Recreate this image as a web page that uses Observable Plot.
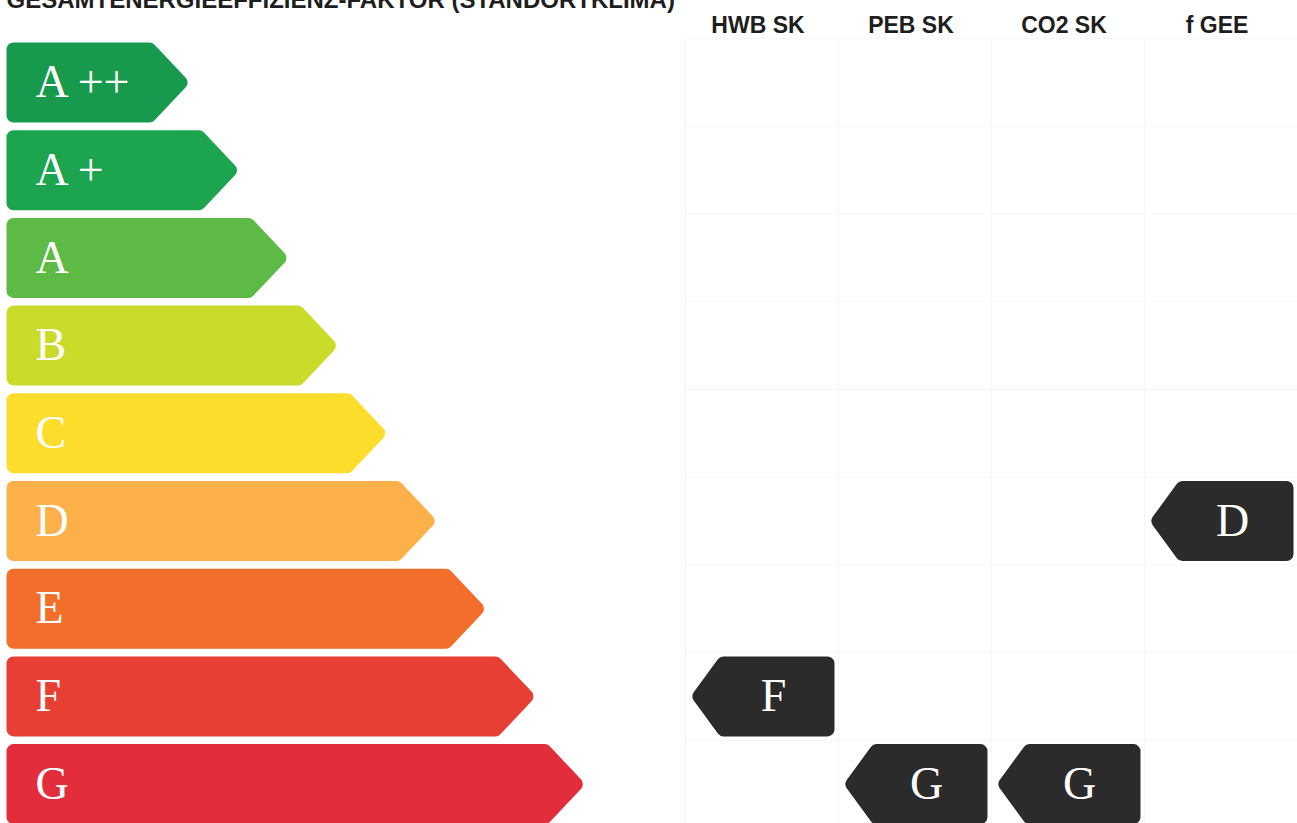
<!DOCTYPE html>
<html><head><meta charset="utf-8">
<script src="https://cdn.jsdelivr.net/npm/d3@7"></script>
<script src="https://cdn.jsdelivr.net/npm/@observablehq/plot@0.6"></script>
<style>html,body{margin:0;padding:0;background:#fff;overflow:hidden}</style>
</head><body><div id="chart"></div>
<script>
// ---- data ----
const title = "GESAMTENERGIEEFFIZIENZ-FAKTOR (STANDORTKLIMA)";
const classes = ["A++", "A+", "A", "B", "C", "D", "E", "F", "G"];
const classLabels = ["A ++", "A +", "A", "B", "C", "D", "E", "F", "G"];
const classColors = ["#179a4d", "#1ca54e", "#5dbb45", "#cbdb2a", "#fddd2c", "#fbb049", "#f26e2a", "#e73f33", "#e42d3a"];
const indicators = ["HWB SK", "PEB SK", "CO2 SK", "f GEE"];
const ratings = ["F", "G", "G", "D"];

// ---- layout ----
const W = 1297, H = 823;
const pitch = 87.7, top0 = 42;          // px per class row, top of first row
const band = 80 / pitch;                 // bar height in row units
const barX0 = 6, barLen0 = 190, barStep = 49.4, tipDx = 40;
const colX0 = 685, colW = 153;
const s = 7, sy = s / pitch;             // inset for rounded stroke
const tipIn = s * 1.41;

const bars = [];
classes.forEach((c, i) => {
  const tip = barLen0 + barStep * i;
  const t = i + sy, b = i + band - sy, m = i + band / 2;
  const pts = [[barX0 + s, t], [tip - tipDx - 1, t], [tip - tipIn, m], [tip - tipDx - 1, b], [barX0 + s, b], [barX0 + s, t]];
  pts.forEach(([x, y]) => bars.push({cls: c, color: classColors[i], x, y}));
});

const arrows = [];
const arrowLabels = [];
indicators.forEach((ind, j) => {
  const r = classes.indexOf(ratings[j]);
  const left = colX0 + colW * j, right = left + colW;
  const tipX = left + 4, bodyX = tipX + 33;
  const t = r + sy, b = r + band - sy, m = r + band / 2;
  const pts = [[tipX + tipIn, m], [bodyX + 1, t], [right - 4 - s, t], [right - 4 - s, b], [bodyX + 1, b], [tipX + tipIn, m]];
  pts.forEach(([x, y]) => arrows.push({ind, x, y}));
  arrowLabels.push({ind, label: ratings[j], x: (bodyX + right - 4) / 2 - 5, y: m});
});

const headers = indicators.map((ind, j) => ({ind, x: colX0 + colW * j + colW / 2 - 4}));
const colEdges = d3.range(indicators.length + 1).map(j => colX0 + colW * j);
const rowEdges = d3.range(classes.length).map(i => i - (1 - band) / 2);

const chart = Plot.plot({
  width: W, height: H,
  margin: 0,
  x: {type: "linear", domain: [0, W], range: [0, W], axis: null},
  y: {type: "linear", domain: [-top0 / pitch, (H - top0) / pitch], range: [0, H], axis: null},
  style: {background: "#fff", overflow: "hidden"},
  marks: [
    Plot.ruleX(colEdges, {x: d => d, y1: -0.03, y2: (H - top0) / pitch, stroke: "#f5f5f5", strokeWidth: 1}),
    Plot.ruleY(rowEdges, {y: d => d, x1: colX0, x2: W, stroke: "#f6f6f6", strokeWidth: 1}),
    Plot.line(bars, {x: "x", y: "y", z: "cls", fill: "color", stroke: "color", strokeWidth: 2 * s,
      strokeLinejoin: "round", strokeLinecap: "round"}),
    Plot.text(classes, {x: barX0 + 29, y: (d, i) => i + band / 2, text: (d, i) => classLabels[i],
      textAnchor: "start", fill: "white", fontSize: 46, fontFamily: "Liberation Serif, Times New Roman, serif"}),
    Plot.line(arrows, {x: "x", y: "y", z: "ind", fill: "#2b2b2b", stroke: "#2b2b2b", strokeWidth: 2 * s,
      strokeLinejoin: "round", strokeLinecap: "round"}),
    Plot.text(arrowLabels, {x: "x", y: "y", text: "label", fill: "white", fontSize: 46,
      fontFamily: "Liberation Serif, Times New Roman, serif"}),
    Plot.text(headers, {x: "x", y: (32 - top0) / pitch, text: "ind", lineAnchor: "bottom", fontSize: 23,
      fontWeight: "bold", fill: "#1e1e1e", fontFamily: "Liberation Sans, Arial, sans-serif"}),
    Plot.text([title], {x: barX0, y: (7 - top0) / pitch, text: d => d, textAnchor: "start", lineAnchor: "bottom",
      fontSize: 24, fontWeight: "bold", fill: "#1e1e1e", fontFamily: "Liberation Sans, Arial, sans-serif"})
  ]
});
document.getElementById("chart").append(chart);
</script>
</body></html>
